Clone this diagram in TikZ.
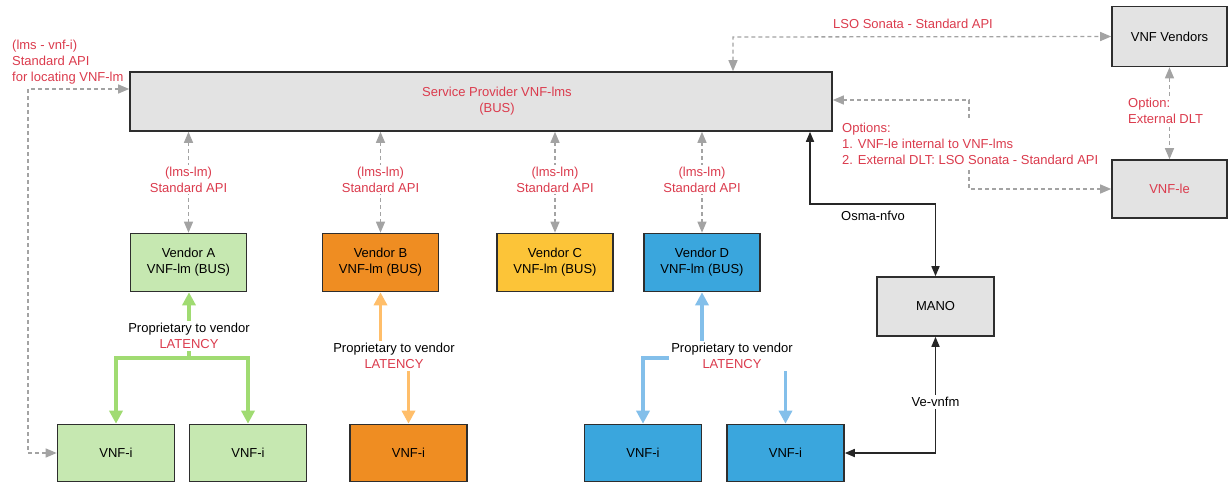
\documentclass[tikz,border=0pt]{standalone}
\usepackage{fontspec}
\setmainfont{Liberation Sans}
\usetikzlibrary{arrows.meta}

\definecolor{boxgray}{HTML}{E3E3E3}
\definecolor{edge}{HTML}{2E2E2E}
\definecolor{apired}{HTML}{DB3B4D}
\definecolor{dashgray}{HTML}{A3A3A3}
\definecolor{afill}{HTML}{C6E8B1}
\definecolor{bfill}{HTML}{EF8D22}
\definecolor{cfill}{HTML}{FCC438}
\definecolor{dfill}{HTML}{3AA6DD}
\definecolor{aline}{HTML}{A0DB72}
\definecolor{bline}{HTML}{FFBE6A}
\definecolor{dline}{HTML}{83BFEA}

\tikzset{
  txt/.style={font=\fontsize{13}{16}\selectfont},
  blk/.style={txt, draw=edge, line width=1.6pt, align=center, inner sep=0pt},
  graybox/.style={blk, fill=boxgray},
  vendorbox/.style={blk, minimum width=116pt, minimum height=58pt},
  vnfbox/.style={blk, minimum width=117pt, minimum height=57pt},
  redtext/.style={txt, text=apired, inner sep=1.5pt},
  tag/.style={txt, fill=white, inner sep=2pt, align=center},
  dasharrow/.style={draw=dashgray, line width=1.3pt, dash pattern=on 4pt off 3pt,
    {Triangle[length=11pt,width=9pt]}-{Triangle[length=11pt,width=9pt]}},
  solidarrow/.style={draw=black!85, line width=1.6pt,
    {Triangle[length=10pt,width=8pt]}-{Triangle[length=10pt,width=8pt]}},
  fatarrow/.style={line width=3.6pt, -{Triangle[length=13pt,width=13pt]}},
}

\begin{document}
\begin{tikzpicture}[x=1pt,y=-1pt]
\useasboundingbox (0,0) rectangle (1229,483);

% management bus and outside parties
\node[graybox, minimum width=702pt, minimum height=59pt] (lms) at (481,101.5) {};
\node[redtext, align=center] (lmstxt) at ([xshift=16pt]lms.center) {Service Provider VNF-lms\\(BUS)};
\node[graybox, minimum width=115pt, minimum height=60pt] (vv) at (1169.5,36.5) {VNF Vendors};
\node[graybox, minimum width=115pt, minimum height=58pt, text=apired] (vle) at (1169.5,189) {VNF-le};
\node[graybox, minimum width=117pt, minimum height=59pt] (mano) at (935.5,306.5) {MANO};

% vendor lifecycle managers
\node[vendorbox, fill=afill] (va) at (188.5,262.5) {Vendor A\\VNF-lm (BUS)};
\node[vendorbox, fill=bfill] (vb) at (380.5,262.5) {Vendor B\\VNF-lm (BUS)};
\node[vendorbox, fill=cfill] (vc) at (555,262.5) {Vendor C\\VNF-lm (BUS)};
\node[vendorbox, fill=dfill] (vd) at (702,262.5) {Vendor D\\VNF-lm (BUS)};

% VNF instances
\node[vnfbox, fill=afill] (a1) at (116,453) {VNF-i};
\node[vnfbox, fill=afill] (a2) at (248,453) {VNF-i};
\node[vnfbox, fill=bfill] (b1) at (408.5,453) {VNF-i};
\node[vnfbox, fill=dfill] (d1) at (643,453) {VNF-i};
\node[vnfbox, fill=dfill] (d2) at (785.5,453) {VNF-i};

% standard APIs between the bus and each vendor manager
\foreach \v in {va,vb,vc,vd}{
  \draw[dasharrow] (lms.south -| \v.north) -- (\v.north);
  \path (\v.north) ++(0,-53) node[tag, text=apired] {(lms-lm)\\Standard API};
}

% locating API from the first instance
\coordinate (loc) at (28,89);
\draw[dasharrow] (a1.west) -| (loc) -- (lms.west |- loc);
\node[redtext, anchor=north west, align=left, inner sep=0pt] (loclbl) at (12,40)
  {(lms - vnf-i)\\Standard API\\for locating VNF-lm};

% LSO Sonata to vendors
\coordinate (lso) at (733,37);
\draw[dasharrow] (lms.north -| lso) -- (lso) -- (vv.west);
\node[redtext] (lsolbl) at (913,24) {LSO Sonata - Standard API};

% external DLT between vendors and VNF-le
\draw[dasharrow] (vv.south) -- (vle.north);
\node[tag, text=apired, align=left, anchor=west] at (1126,111) {Option:\\External DLT};

% VNF-le options
\coordinate (opt) at (969,100);
\draw[dasharrow] (vle.west) -| (opt) -- (lms.east |- opt);
\node[tag, text=apired, align=left, anchor=west] at (840,144)
  {Options:\\1. VNF-le internal to VNF-lms\\2. External DLT: LSO Sonata - Standard API};

% Osma-nfvo and Ve-vnfm reference points
\coordinate (os1) at (810,204);
\coordinate (os2) at (mano.north |- os1);
\draw[solidarrow] (lms.south -| os1) -- (os1) -- (os2) -- (mano.north);
\node[txt, inner sep=1pt] at (873,216) {Osma-nfvo};
\draw[solidarrow] (mano.south) |- (d2.east);
\node[tag] at (mano.south |- 0,402) {Ve-vnfm};

% proprietary links, vendor A
\coordinate (ja) at (189,358);
\draw[fatarrow, aline] (ja) -- (ja |- va.south);
\draw[fatarrow, aline] (ja) -| (a1.north);
\draw[fatarrow, aline] (ja) -| (a2.north);
\node[tag] at (189,336) {Proprietary to vendor\\\textcolor{apired}{LATENCY}};

% proprietary links, vendor B
\coordinate (jb) at (380.5,356);
\draw[fatarrow, bline] (jb) -- (vb.south);
\draw[fatarrow, bline] (jb) -| (b1.north);
\node[tag] at (394,356) {Proprietary to vendor\\\textcolor{apired}{LATENCY}};

% proprietary links, vendor D
\coordinate (jd) at (702,358);
\draw[fatarrow, dline] (jd) -- (vd.south);
\draw[fatarrow, dline] (jd) -| (d1.north);
\draw[fatarrow, dline] (jd) -| (d2.north);
\node[tag] at (732,356) {Proprietary to vendor\\\textcolor{apired}{LATENCY}};
\end{tikzpicture}
\end{document}
